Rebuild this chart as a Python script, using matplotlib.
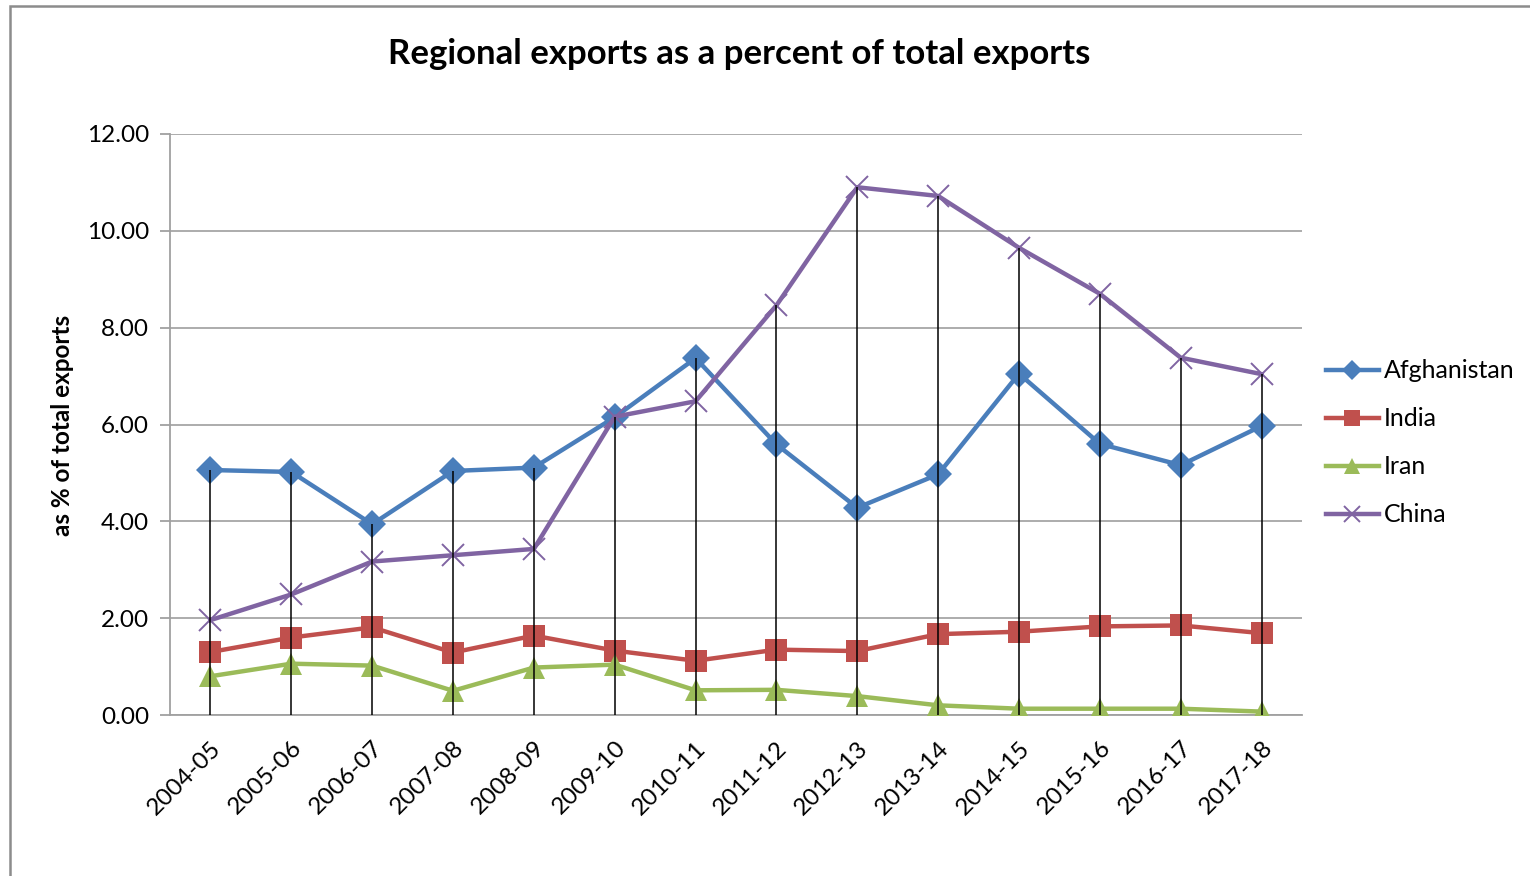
import matplotlib
import matplotlib.pyplot as plt
import numpy as np
from matplotlib.patches import Rectangle

matplotlib.use("Agg")

plt.rcParams["font.family"] = ["Lato", "DejaVu Sans"]

# Fiscal years and regional share of total exports (%)
YEARS = [
    "2004-05", "2005-06", "2006-07", "2007-08", "2008-09", "2009-10", "2010-11",
    "2011-12", "2012-13", "2013-14", "2014-15", "2015-16", "2016-17", "2017-18",
]
AFGHANISTAN = [5.06, 5.02, 3.94, 5.04, 5.11, 6.15, 7.37, 5.59, 4.28, 4.97, 7.05, 5.60, 5.16, 5.97]
INDIA = [1.30, 1.60, 1.81, 1.29, 1.64, 1.33, 1.12, 1.35, 1.32, 1.67, 1.72, 1.83, 1.85, 1.69]
IRAN = [0.80, 1.06, 1.02, 0.50, 0.98, 1.04, 0.51, 0.52, 0.39, 0.20, 0.13, 0.13, 0.13, 0.07]
CHINA = [1.96, 2.49, 3.17, 3.30, 3.43, 6.16, 6.48, 8.46, 10.90, 10.72, 9.65, 8.70, 7.38, 7.04]

SERIES = [
    ("Afghanistan", AFGHANISTAN, "#4a7ebb", "D", 14),
    ("India", INDIA, "#c0504d", "s", 15.5),
    ("Iran", IRAN, "#9bbb59", "^", 16),
    ("China", CHINA, "#8064a2", "x", 16),
]

fig = plt.figure(figsize=(15.3, 8.76), dpi=100)
ax = fig.add_axes([170 / 1530, 1 - 715 / 876, (1302 - 170) / 1530, (715 - 134) / 876])

x = np.arange(len(YEARS))

for name, values, color, marker, size in SERIES:
    if marker == "x":
        ax.plot(x, values, color=color, linewidth=3.2, marker=marker, markersize=size,
                markeredgewidth=1.4, label=name, zorder=3)
    else:
        ax.plot(x, values, color=color, linewidth=3.2, marker=marker, markersize=size,
                markeredgewidth=0, label=name, zorder=3)

# Drop lines from the highest series down to the category axis
top = np.max(np.vstack([AFGHANISTAN, INDIA, IRAN, CHINA]), axis=0)
ax.vlines(x, 0, top, color="black", linewidth=1.1, zorder=5)

ax.set_xlim(-0.5, len(YEARS) - 0.5)
ax.set_ylim(0, 12)
ax.set_yticks(np.arange(0, 12.01, 2))
ax.set_yticklabels([f"{v:.2f}" for v in np.arange(0, 12.01, 2)])
ax.set_xticks(x)
ax.set_xticklabels(YEARS, rotation=45, ha="right", va="top", rotation_mode="anchor")
ax.tick_params(axis="x", length=0, pad=16, labelsize=17.5)
ax.tick_params(axis="y", length=7, color="#a0a0a0", width=1.3, pad=8, labelsize=17.5)

ax.grid(axis="y", color="#a6a6a6", linewidth=1.3)
ax.set_axisbelow(True)
for side in ("top", "right"):
    ax.spines[side].set_visible(False)
for side in ("left", "bottom"):
    ax.spines[side].set_color("#a0a0a0")
    ax.spines[side].set_linewidth(1.3)

fig.text(739 / 1530, 1 - 54 / 876, "Regional exports as a percent of total exports",
         ha="center", va="center", fontsize=25, fontweight="bold")
fig.text(62 / 1530, 1 - 425 / 876, "as % of total exports", rotation=90,
         ha="center", va="center", fontsize=17.5, fontweight="bold")

fig.legend(loc="center left", bbox_to_anchor=(1316 / 1530, 1 - 443 / 876),
           frameon=False, fontsize=18, handlelength=2.1, handletextpad=0.2,
           labelspacing=1.0, markerscale=0.7, borderaxespad=0)

# Outer chart border
fig.add_artist(Rectangle((10 / 1530, -0.1), 1.2, 1.1 - 6 / 876, transform=fig.transFigure,
                         fill=False, edgecolor="#8c8c8c", linewidth=1.8))

fig.savefig("out.png", dpi=100)
